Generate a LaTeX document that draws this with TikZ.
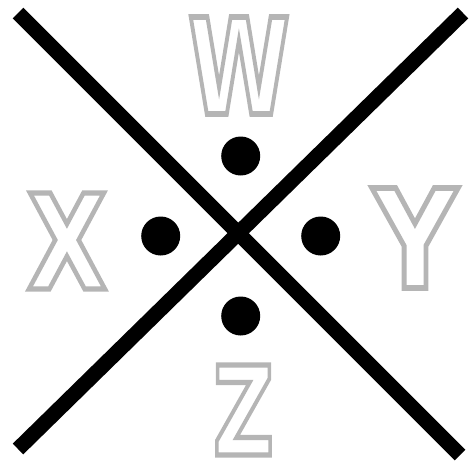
\documentclass[tikz,border=0pt]{standalone}
\usepackage{fontspec}
\usepackage{graphicx}
\setmainfont{DejaVu Sans}
\newcommand{\outletter}[3]{\resizebox{#1pt}{#2pt}{\special{pdf:literal direct 2 Tr 5.5 w 0.71 G 1 g}#3\special{pdf:literal direct 0 Tr 0 g 0 G}}}
\tikzset{
  bar/.style={line width=15pt, line cap=butt, black},
  dot/.style={circle, fill=black, minimum size=39pt, inner sep=0pt},
  letter/.style={inner sep=0pt, outer sep=0pt, font=\fontsize{133}{133}\selectfont\bfseries}
}
\begin{document}
\begin{tikzpicture}[x=1pt,y=-1pt]
\useasboundingbox (0,0) rectangle (471,461);
\coordinate (tl) at (18,13);
\coordinate (br) at (460,455);
\coordinate (tr) at (463,13);
\coordinate (bl) at (18,449);
\draw[bar] (tl) -- (br);
\draw[bar] (tr) -- (bl);
\node[dot] (dw) at (240.7,156) {};
\node[dot] (dx) at (160.7,236) {};
\node[dot] (dy) at (320.7,236) {};
\node[dot] (dz) at (240.7,316) {};
\node[letter] (lw) at (239,65.5) {\outletter{102}{97}{W}};
\node[letter] (lx) at (67,241) {\outletter{80}{96}{X}};
\node[letter] (ly) at (415,238) {\outletter{84}{100}{Y}};
\node[letter] (lz) at (243.5,410) {\outletter{61}{90}{Z}};
\end{tikzpicture}
\end{document}
